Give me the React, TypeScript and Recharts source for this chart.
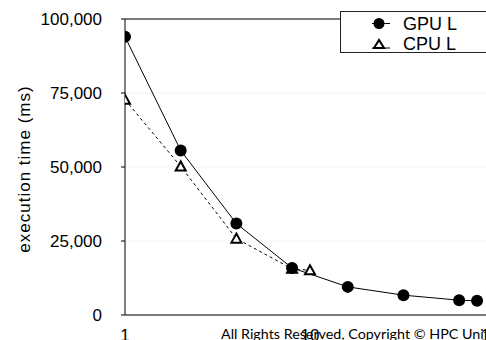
import { LineChart, Line, XAxis, YAxis, CartesianGrid, ReferenceLine } from 'recharts';

// threads vs execution time (ms)
const gpuThreads = [1, 2, 4, 8, 16, 32, 64, 80];
const gpuTime = [94000, 55600, 30900, 15900, 9500, 6700, 5000, 4800];
const cpuThreads = [1, 2, 4, 8, 10];
const cpuTime = [72700, 50200, 25800, 15600, 15100];

const xTicks = [1, 10, 100];
const yTicks = [0, 25000, 50000, 75000, 100000];

const gpuData = gpuThreads.map((x, i) => ({ x, time: gpuTime[i] }));
const cpuData = cpuThreads.map((x, i) => ({ x, time: cpuTime[i] }));

const FONT = '"Liberation Sans", Arial, sans-serif';

const TriangleDot = (props: any) => {
  const { cx, cy } = props;
  if (cx == null || cy == null) return null;
  return (
    <path
      d={`M${cx},${cy - 5} L${cx - 5},${cy + 4} L${cx + 5},${cy + 4} Z`}
      fill="#fff"
      stroke="#000"
      strokeWidth={2}
      strokeLinejoin="miter"
    />
  );
};

// legend box runs off the right edge like in the original
const LegendBox = () => (
  <div
    style={{
      position: 'absolute',
      left: 340,
      top: 11,
      width: 170,
      height: 42,
      border: '1px solid #222',
      background: '#fff',
      boxSizing: 'border-box',
    }}
  >
    <svg width={168} height={40} style={{ display: 'block' }}>
      <line x1={31} x2={49} y1={11.5} y2={11.5} stroke="#000" />
      <circle cx={38} cy={11.5} r={5.5} fill="#000" />
      <text x={62} y={18} fontSize={18} fontFamily={FONT} fill="#000">GPU L</text>
      <line x1={31} x2={49} y1={36} y2={36} stroke="#000" />
      <path d="M38,28 L33,36 L43,36 Z" fill="#fff" stroke="#000" strokeWidth={2} />
      <text x={62} y={38} fontSize={18} fontFamily={FONT} fill="#000">CPU L</text>
    </svg>
  </div>
);

export default function App() {
  return (
    <div style={{ position: 'absolute', left: 0, top: 0, width: 486, height: 340, overflow: 'hidden', background: '#fff' }}>
      <LineChart width={520} height={340} margin={{ top: 19, right: 25, bottom: 0, left: 0 }}>
        <CartesianGrid vertical={false} stroke="#f3f3f3" />
        <XAxis
          dataKey="x"
          type="number"
          scale="log"
          domain={[1, 100]}
          ticks={xTicks}
          allowDataOverflow
          height={25}
          tickLine={false}
          tickMargin={8}
          axisLine={{ stroke: '#000' }}
          tick={{ fontSize: 17, fill: '#000', fontFamily: FONT }}
        />
        <YAxis
          type="number"
          domain={[0, 100000]}
          ticks={yTicks}
          width={125}
          tickSize={4}
          tickMargin={19}
          axisLine={{ stroke: '#000' }}
          tickLine={{ stroke: '#000' }}
          tick={{ fontSize: 17, fill: '#000', fontFamily: FONT }}
          tickFormatter={(v: number) => v.toLocaleString('en-US')}
          label={{
            content: () => (
              <text
                x={24}
                y={169}
                transform="rotate(-90 24 169)"
                textAnchor="middle"
                dominantBaseline="central"
                fontSize={17}
                letterSpacing={1}
                fontFamily={FONT}
                fill="#000"
              >
                execution time (ms)
              </text>
            ),
          }}
        />
        <ReferenceLine y={100000} stroke="#000" />
        <Line
          data={cpuData}
          dataKey="time"
          name="CPU L"
          stroke="#000"
          strokeWidth={1}
          strokeDasharray="3 3"
          dot={<TriangleDot />}
          isAnimationActive={false}
        />
        <Line
          data={gpuData}
          dataKey="time"
          name="GPU L"
          stroke="#000"
          strokeWidth={1}
          dot={{ r: 6, fill: '#000', stroke: '#000', strokeWidth: 0 }}
          isAnimationActive={false}
        />
      </LineChart>
      <LegendBox />
      <svg width={486} height={340} style={{ position: 'absolute', left: 0, top: 0, pointerEvents: 'none' }}>
        <text x={221} y={339} fontSize={14.3} fontFamily="Lato, 'Open Sans', sans-serif" fill="#000">
          All Rights Reserved, Copyright © HPC Unit
        </text>
      </svg>
    </div>
  );
}
